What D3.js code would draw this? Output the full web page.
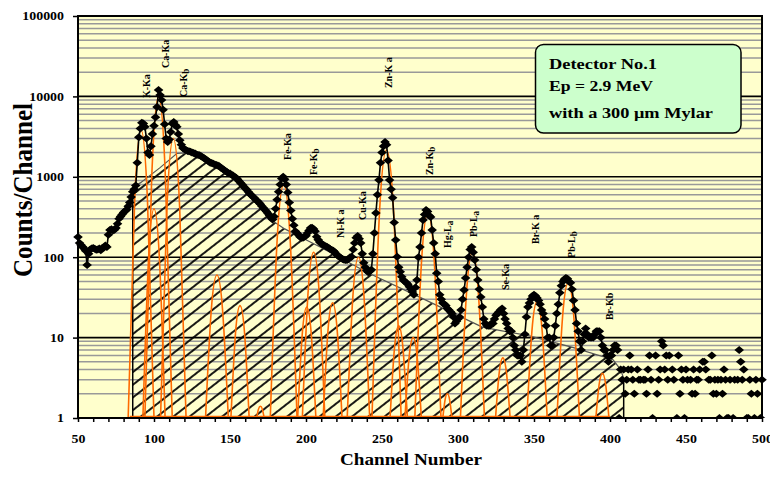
<!DOCTYPE html>
<html><head><meta charset="utf-8">
<script src="https://cdn.jsdelivr.net/npm/d3@7"></script>
<style>
html,body{margin:0;padding:0;background:#fff;}
svg{display:block;font-family:"Liberation Serif","Times New Roman",serif;font-weight:bold;}
</style></head><body>
<svg id="chart" width="770" height="486"></svg>
<script>
// Measured spectrum, counts per channel for channels 50..405 (joined by a line)
const specStart = 50;
const spectrum = [
  178,150,142,135,128,120,80,110,125,128,
  130,127,124,125,128,122,130,132,140,134,
  190,218,222,215,220,230,260,300,320,340,
  360,375,390,430,480,560,650,700,780,1500,
  3100,4000,4700,4600,4200,3000,2000,1870,2400,3400,
  4300,5500,7400,12000,10400,9000,6800,4500,3000,2700,
  2900,3600,4600,4800,4400,4200,3400,2850,2500,2280,
  2200,2150,2100,2080,2050,2000,1980,1950,1900,1870,
  1850,1800,1750,1700,1650,1600,1550,1500,1480,1450,
  1420,1400,1380,1350,1300,1260,1220,1180,1150,1110,
  1100,1060,1040,1000,970,930,880,840,800,760,
  720,690,650,620,590,570,545,520,500,480,
  455,430,410,390,370,350,330,310,295,320,
  400,520,650,800,950,1000,930,800,640,480,
  380,300,250,210,200,190,180,175,175,180,
  185,200,215,230,232,225,210,180,165,155,
  148,143,140,137,134,130,126,123,120,115,
  108,104,101,98,95,93,92,92,95,100,
  101,125,150,175,184,170,150,110,85,75,
  68,65,67,70,110,200,355,600,910,1500,
  2000,2400,2700,2500,1600,910,700,550,270,164,
  101,75,66,57,52,50,48,46,43,40,
  37,34,42,52,100,134,200,290,340,387,
  370,330,316,218,150,110,63,50,34,30,
  27,26,25,23,22,21,20,18,15,16,
  17,18,22,30,39,55,75,100,125,134,
  115,92,70,52,40,32,24,17,15,14,
  14,14,15,15,17,19,20,21,22,23,
  20,17,15,13,12,12,10,8,7,6,
  6,6,5,7,11,18,24,27,30,33,
  34,33,31,29,26,22,20,17,14,10,
  10,8,8,10,14,20,26,36,44,50,
  53,55,54,50,48,40,29,22,15,12,
  9,7,9,11,13,11,10,10,10,10,
  11,12,12,12,10,8,7,7,6,5,
  6,6,7,8,8,7
];

// Sparse tail, channels 406..500 (0 = empty channel, not plotted)
const tailStart = 406;
const tail = [
  1,4,3,4,2,3,4,6,4,3,
  2,0,4,3,3,0,3,3,2,4,
  6,3,1,0,6,2,3,4,9,8,
  4,6,3,6,0,4,3,0,1,6,
  2,4,3,1,4,3,0,3,2,4,
  2,3,3,4,0,5,5,4,0,3,
  3,6,2,3,2,3,1,3,2,4,
  3,1,1,3,0,1,3,0,3,7,
  5,3,4,0,1,1,3,2,0,1,
  3,2,0,1,3
];

// Continuum under the peaks (hatched area)
const bgChannels = [86, 91, 104, 115, 124, 137, 150, 163, 176, 186, 196, 209, 240, 273, 316, 347, 376, 402, 407, 409];
const bgCounts   = [750, 840, 1300, 1950, 2000, 1480, 1060, 600, 300, 225, 180, 135, 65, 33, 13.5, 10.5, 7.5, 5.3, 4.0, 3.1];

// Fitted peaks: centre channel, height, half width at the 1-count level (channels),
// and the fitted level half way out from the centre
const peakCenters    = [91.5, 100, 103, 112.7, 141.4, 156.6, 170, 185.3, 200.5, 205, 217.5, 234.5, 253, 261, 270.5, 280.2, 293, 309.5, 329.5, 352, 372.5, 395];
const peakHeights    = [3800, 400, 9800, 3000, 60, 25, 1.4, 800, 24, 115, 27, 100, 2150, 14, 10, 355, 2, 115, 5.6, 28, 48, 3.6];
const peakHalfWidths = [8.5, 7.3, 9.0, 8.4, 7.5, 6.0, 2.5, 8.8, 6.0, 7.4, 6.2, 7.4, 9.6, 5.7, 5.4, 8.6, 3.0, 7.9, 4.8, 6.7, 7.4, 4.3];
const peakShoulders  = [484, 89, 985, 405, 21.6, 11.2, 1.29, 150, 10.8, 35, 11.8, 31.6, 316, 7.2, 5.6, 82, 1.68, 35, 3.64, 12.2, 18.2, 2.61];
const fitSpan = [84, 400];

// Line identification labels
const labelText     = ["K-Ka", "Ca-Ka", "Ca-K", "Fe-Ka", "Fe-K", "Ni-K a", "Cu-Ka", "Zn-K a", "Zn-K", "Hg-L", "Pb-L", "Se-Ka", "Br-K a", "Pb-L", "Br-Kb"];
const labelSub      = ["", "", "b", "", "b", "", "", "", "b", "a", "a", "", "", "b", ""];
const labelChannels = [94.7, 107.2, 119.1, 187.5, 204.6, 222.4, 236.8, 253.9, 280.9, 292.8, 309.9, 330.9, 350.7, 374.3, 399.3];
const labelCounts   = [9550, 22500, 9840, 1620, 1050, 173, 290, 12700, 1050, 130, 178, 39, 146, 98, 16.5];

const xTickLabels = [50, 100, 150, 200, 250, 300, 350, 400, 450, 500];
const yTickLabels = [1, 10, 100, 1000, 10000, 100000];
const infoLines = ["Detector No.1", "Ep = 2.9 MeV", "with a 300 \u03bcm Mylar"];

// ---- drawing ----
const W = 770, H = 486;
const pL = 78, pR = 762, pT = 16, pB = 418;
const stretch = 1.13;   // text is set slightly wide

const x = d3.scaleLinear().domain([50, 500]).range([pL, pR]);
const y = d3.scaleLog().domain([1, 100000]).range([pB, pT]);

const svg = d3.select("#chart");
const defs = svg.append("defs");
defs.append("clipPath").attr("id", "clipBottom")
  .append("rect").attr("x", 0).attr("y", 0).attr("width", W).attr("height", pB);
defs.append("clipPath").attr("id", "clipPlot")
  .append("rect").attr("x", pL).attr("y", pT).attr("width", pR - pL).attr("height", pB - pT);
const pat = defs.append("pattern").attr("id", "hatch")
  .attr("patternUnits", "userSpaceOnUse")
  .attr("width", 12).attr("height", 10)
  .attr("patternTransform", "rotate(-38)");
pat.append("line").attr("x1", -1).attr("x2", 13).attr("y1", 5).attr("y2", 5)
  .attr("stroke", "#000").attr("stroke-width", 1.8);

// plot background
svg.append("rect").attr("x", pL).attr("y", pT)
  .attr("width", pR - pL).attr("height", pB - pT).attr("fill", "#FFFFCC");

// grid
const decades = yTickLabels.slice(0, -1);
const minorVals = [];
decades.forEach(d => { for (let k = 2; k <= 9; k++) minorVals.push(d * k); });
const grid = svg.append("g");
grid.selectAll("line.minor").data(minorVals).join("line").attr("class", "minor")
  .attr("x1", pL).attr("x2", pR).attr("y1", d => y(d)).attr("y2", d => y(d))
  .attr("stroke", "#999").attr("stroke-width", 1.5);
grid.selectAll("line.major").data(yTickLabels.slice(1, -1)).join("line").attr("class", "major")
  .attr("x1", pL).attr("x2", pR).attr("y1", d => y(d)).attr("y2", d => y(d))
  .attr("stroke", "#000").attr("stroke-width", 1.6);

// continuum (hatched)
const bgPts = bgChannels.map((c, i) => [c, bgCounts[i]]);
const area = d3.area().x(d => x(d[0])).y0(y(1)).y1(d => y(d[1]));
svg.append("path").datum(bgPts).attr("d", area).attr("fill", "url(#hatch)");
svg.append("path").datum(bgPts)
  .attr("d", d3.line().x(d => x(d[0])).y(d => y(d[1])))
  .attr("fill", "none").attr("stroke", "#555").attr("stroke-width", 1.2);
[bgPts[0], bgPts[bgPts.length - 1]].forEach(p => {
  svg.append("line").attr("x1", x(p[0])).attr("x2", x(p[0]))
    .attr("y1", y(1)).attr("y2", y(p[1])).attr("stroke", "#000").attr("stroke-width", 1.5);
});

// fitted peaks
const gFit = svg.append("g").attr("clip-path", "url(#clipPlot)");
const peakLine = d3.line().x(d => x(d[0])).y(d => y(d[1])).curve(d3.curveNatural);
peakCenters.forEach((c, i) => {
  const w = peakHalfWidths[i], s = peakShoulders[i];
  gFit.append("path")
    .datum([[c - w, 1], [c - w / 2, s], [c, peakHeights[i]], [c + w / 2, s], [c + w, 1]])
    .attr("d", peakLine).attr("fill", "none")
    .attr("stroke", "#FF6A00").attr("stroke-width", 1.6);
});
gFit.append("line").attr("x1", x(fitSpan[0])).attr("x2", x(fitSpan[1]))
  .attr("y1", y(1) - 1).attr("y2", y(1) - 1)
  .attr("stroke", "#FF6A00").attr("stroke-width", 2.5);

// measured spectrum
const specPts = spectrum.map((v, i) => [specStart + i, v]);
const tailPts = tail.map((v, i) => [tailStart + i, v]).filter(d => d[1] > 0);
svg.append("path").datum(specPts)
  .attr("d", d3.line().x(d => x(d[0])).y(d => y(d[1])))
  .attr("fill", "none").attr("stroke", "#000").attr("stroke-width", 1.6);
const diamond = "M0,-4L4.8,0L0,4L-4.8,0Z";
const gMk = svg.append("g").attr("clip-path", "url(#clipBottom)");
gMk.selectAll("path").data(specPts.concat(tailPts)).join("path")
  .attr("d", diamond)
  .attr("transform", d => `translate(${x(d[0])},${y(d[1])})`)
  .attr("fill", "#000");

// frame
svg.append("rect").attr("x", pL).attr("y", pT)
  .attr("width", pR - pL).attr("height", pB - pT)
  .attr("fill", "none").attr("stroke", "#000").attr("stroke-width", 2);

// axes
function widen(sel) {
  sel.each(function () {
    const len = this.getComputedTextLength();
    if (len > 0) d3.select(this).attr("textLength", len * stretch).attr("lengthAdjust", "spacingAndGlyphs");
  });
}
const xAxis = d3.axisBottom(x)
  .tickValues(d3.range(50, 501, 10))
  .tickFormat(d => xTickLabels.includes(d) ? d : "")
  .tickSize(4).tickPadding(12);
const gx = svg.append("g").attr("transform", `translate(0,${pB})`).call(xAxis);
gx.select(".domain").remove();
gx.selectAll("line").attr("stroke", "#000").attr("stroke-width", 1.5);
gx.selectAll("text").attr("font-size", 12.3).attr("fill", "#000")
  .attr("font-family", "Liberation Serif").attr("font-weight", "bold").call(widen);

const yAxis = d3.axisLeft(y).tickValues(yTickLabels)
  .tickFormat(d3.format("d")).tickSize(5).tickPadding(9);
const gy = svg.append("g").attr("transform", `translate(${pL},0)`).call(yAxis);
gy.select(".domain").remove();
gy.selectAll("line").attr("stroke", "#000").attr("stroke-width", 1.5);
gy.selectAll("text").attr("font-size", 12.3).attr("fill", "#000")
  .attr("font-family", "Liberation Serif").attr("font-weight", "bold").call(widen);

// axis titles
svg.append("text").attr("x", 411).attr("y", 465).attr("text-anchor", "middle")
  .attr("font-size", 17).attr("textLength", 142).attr("lengthAdjust", "spacingAndGlyphs")
  .text("Channel Number");
svg.append("text").attr("transform", `translate(32,190) scale(${stretch},1) rotate(-90)`)
  .attr("text-anchor", "middle").attr("font-size", 24)
  .attr("textLength", 174).attr("lengthAdjust", "spacingAndGlyphs")
  .text("Counts/Channel");

// peak labels
labelText.forEach((t, i) => {
  const tx = svg.append("text")
    .attr("transform", `translate(${x(labelChannels[i]) + 4},${y(labelCounts[i])}) scale(${stretch},1) rotate(-90)`)
    .attr("font-size", 10).attr("text-anchor", "start").text(t);
  if (labelSub[i]) tx.append("tspan").attr("dy", 2).attr("font-size", 9).text(labelSub[i]);
});

// info box
const box = svg.append("g");
box.append("rect").attr("x", 535.5).attr("y", 44.5).attr("width", 205.5).attr("height", 88.5)
  .attr("rx", 8).attr("fill", "#CCFFCC").attr("stroke", "#000").attr("stroke-width", 1.5);
const infoWidths = [108, 104, 164];
infoLines.forEach((t, i) => {
  box.append("text").attr("x", 549).attr("y", [69, 91, 118][i])
    .attr("font-size", 15.5).attr("textLength", infoWidths[i])
    .attr("lengthAdjust", "spacingAndGlyphs").text(t);
});
</script>
</body></html>
